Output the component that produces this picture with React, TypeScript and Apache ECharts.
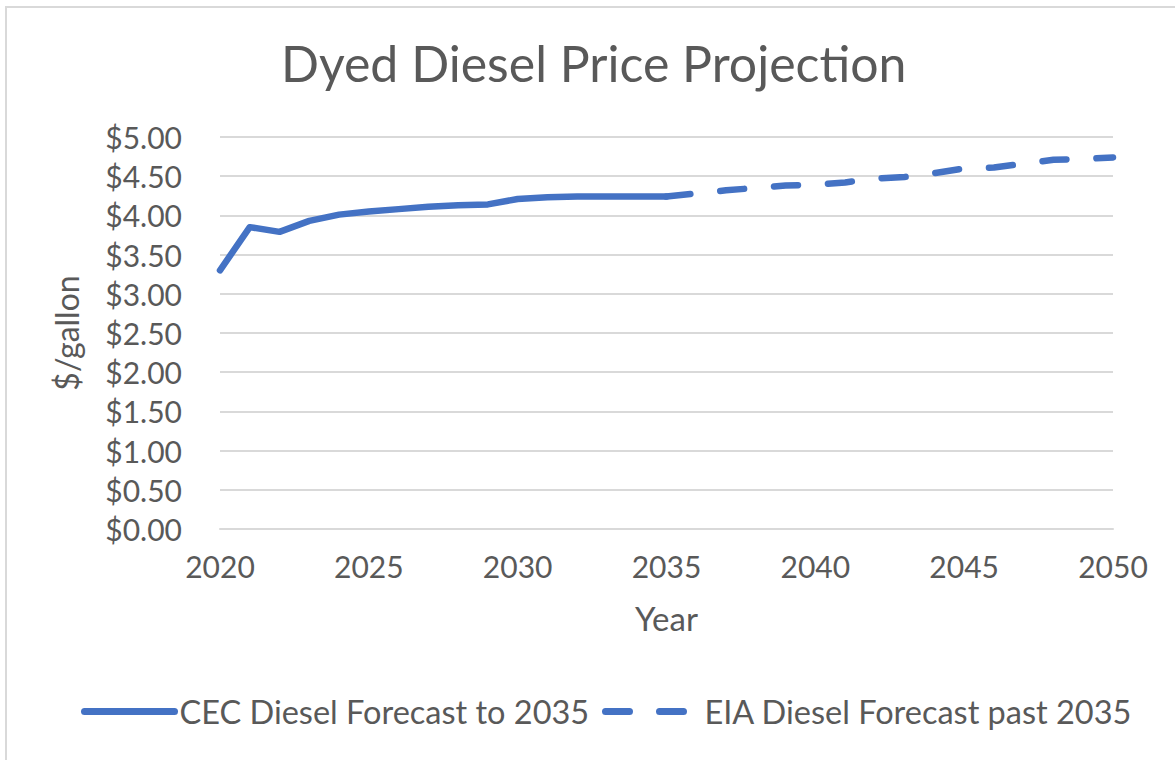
import React, { useEffect, useRef } from "react";
import * as echarts from "echarts";

const cecYears = [2020, 2021, 2022, 2023, 2024, 2025, 2026, 2027, 2028, 2029, 2030, 2031, 2032, 2033, 2034, 2035];
const cecPrices = [3.3, 3.85, 3.79, 3.93, 4.01, 4.05, 4.08, 4.11, 4.13, 4.14, 4.21, 4.23, 4.24, 4.24, 4.24, 4.24];
const eiaYears = [2035, 2036, 2037, 2038, 2039, 2040, 2041, 2042, 2043, 2044, 2045, 2046, 2047, 2048, 2049, 2050];
const eiaPrices = [4.24, 4.28, 4.32, 4.35, 4.38, 4.39, 4.42, 4.47, 4.49, 4.54, 4.6, 4.61, 4.66, 4.71, 4.72, 4.74];
const seriesNames = ["CEC Diesel Forecast to 2035", "EIA Diesel Forecast past 2035"];

const FONT = "Lato";
const GREY = "#595959";
const BLUE = "#4472C4";

export default function App() {
  const ref = useRef<HTMLDivElement>(null);
  useEffect(() => {
    if (!ref.current) return;
    const chart = echarts.init(ref.current, undefined, { renderer: "svg" });
    const legendBase = {
      top: 695,
      padding: 0,
      itemHeight: 14,
      itemStyle: { opacity: 0 },
      lineStyle: { width: 7, cap: "round" },
      textStyle: { fontFamily: FONT, fontSize: 32.5, color: GREY },
    };
    chart.setOption({
      animation: false,
      backgroundColor: "#ffffff",
      textStyle: { fontFamily: FONT, color: GREY },
      title: {
        text: "Dyed Diesel Price Projection",
        left: 276,
        top: 33,
        textStyle: { fontFamily: FONT, fontSize: 50, fontWeight: "normal", color: GREY },
      },
      graphic: [
        {
          type: "rect",
          shape: { x: 6, y: 7, width: 1300, height: 900 },
          style: { fill: "none", stroke: "#d9d9d9", lineWidth: 2 },
          silent: true,
        },
      ],
      grid: { left: 220, right: 62, top: 137, bottom: 231 },
      xAxis: {
        type: "value",
        min: 2020,
        max: 2050,
        interval: 5,
        name: "Year",
        nameLocation: "middle",
        nameGap: 72,
        nameTextStyle: { fontFamily: FONT, fontSize: 33, color: GREY },
        axisLine: { show: true, lineStyle: { color: "#d9d9d9", width: 2 } },
        axisTick: { show: false },
        splitLine: { show: false },
        axisLabel: {
          fontFamily: FONT,
          fontSize: 30,
          color: GREY,
          margin: 22,
          formatter: (v: number) => String(v),
        },
      },
      yAxis: {
        type: "value",
        min: 0,
        max: 5,
        interval: 0.5,
        name: "$/gallon",
        nameLocation: "middle",
        nameGap: 138,
        nameTextStyle: { fontFamily: FONT, fontSize: 32, color: GREY },
        axisLine: { show: false },
        axisTick: { show: false },
        splitLine: { lineStyle: { color: "#d9d9d9", width: 2 } },
        axisLabel: {
          fontFamily: FONT,
          fontSize: 30,
          color: GREY,
          margin: 38,
          formatter: (v: number) => "$" + v.toFixed(2),
        },
      },
      legend: [
        { ...legendBase, left: 81, itemWidth: 90, data: [seriesNames[0]] },
        { ...legendBase, left: 602, itemWidth: 94, data: [seriesNames[1]] },
      ],
      series: [
        {
          name: seriesNames[0],
          type: "line",
          symbol: "none",
          data: cecYears.map((y, i) => [y, cecPrices[i]]),
          lineStyle: { color: BLUE, width: 6.5, cap: "round", join: "round" },
          itemStyle: { color: BLUE },
        },
        {
          name: seriesNames[1],
          type: "line",
          symbol: "none",
          data: eiaYears.map((y, i) => [y, eiaPrices[i]]),
          lineStyle: { color: BLUE, width: 6.5, type: [24, 30], cap: "round", join: "round" },
          itemStyle: { color: BLUE },
        },
      ],
    });
    return () => chart.dispose();
  }, []);
  return (
    <div
      ref={ref}
      style={{ position: "fixed", left: 0, top: 0, width: 1175, height: 760 }}
    />
  );
}
